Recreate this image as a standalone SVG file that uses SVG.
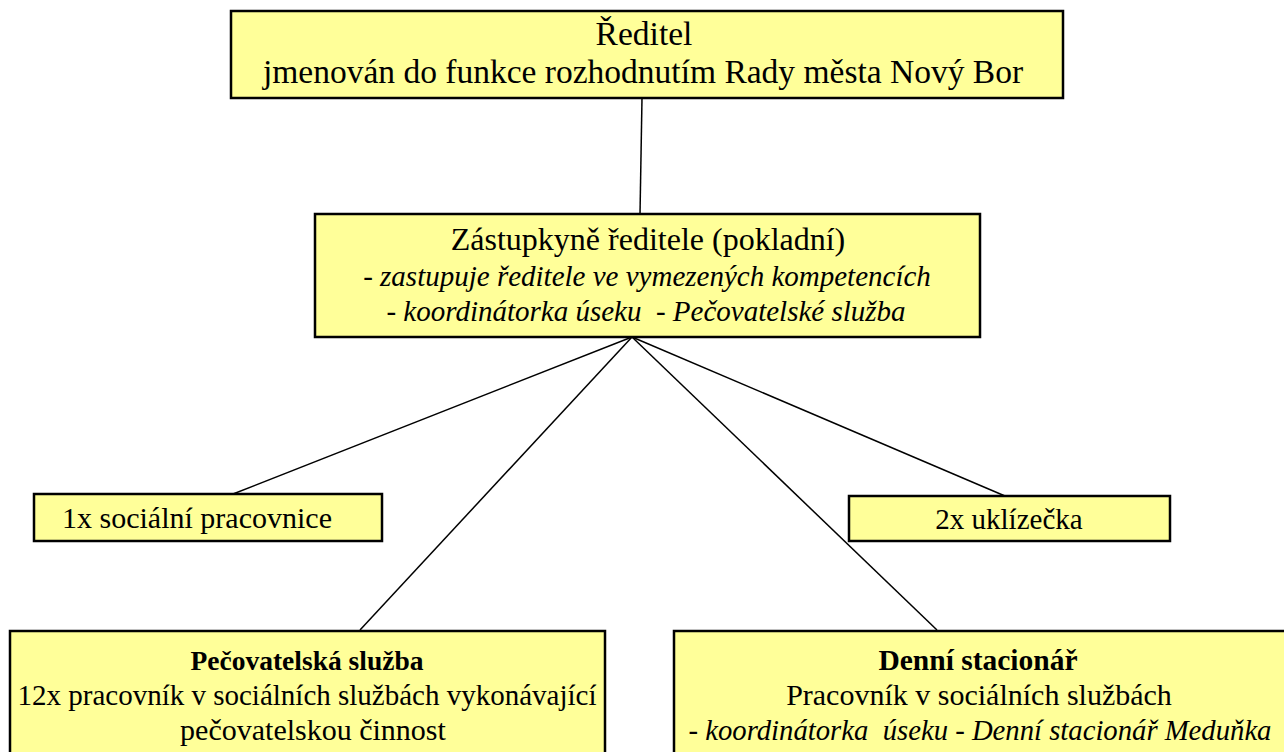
<svg xmlns="http://www.w3.org/2000/svg" width="1284" height="752" viewBox="0 0 1284 752">
<style>
.box{fill:#FFFF99;stroke:#000;stroke-width:2.5}
.t{font-family:"Liberation Serif","Times New Roman",serif;font-size:30px;fill:#000;text-anchor:middle;white-space:pre}
.i{font-style:italic;font-size:29px}
.b{font-weight:bold;font-size:28px}
.top{font-size:33.5px}
.c{stroke:#000;stroke-width:1.5;fill:none}
</style>
<rect width="1284" height="752" fill="#fff"/>
<g id="connectors">
<line class="c" x1="642" y1="98" x2="640" y2="214"/>
<line class="c" x1="632" y1="337" x2="233" y2="494"/>
<line class="c" x1="632" y1="337" x2="360" y2="630"/>
<line class="c" x1="632" y1="337" x2="937" y2="630"/>
<line class="c" x1="632" y1="337" x2="1005" y2="496"/>
</g>
<g id="reditel">
<rect class="box" x="231" y="11" width="832" height="87"/>
<text class="t top" x="644" y="45">Ředitel</text>
<text class="t top" x="643" y="83">jmenován do funkce rozhodnutím Rady města Nový Bor</text>
</g>
<g id="zastupkyne">
<rect class="box" x="315" y="214" width="665" height="123"/>
<text class="t" x="648" y="250" style="font-size:32px">Zástupkyně ředitele (pokladní)</text>
<text class="t i" x="647" y="286">- zastupuje ředitele ve vymezených kompetencích</text>
<text class="t i" x="646" y="321" xml:space="preserve">- koordinátorka úseku  - Pečovatelské služba</text>
</g>
<g id="socialni">
<rect class="box" x="34" y="494" width="348" height="47"/>
<text class="t" x="197" y="528">1x sociální pracovnice</text>
</g>
<g id="uklizecka">
<rect class="box" x="849" y="496" width="321" height="45"/>
<text class="t" x="1009" y="529" style="font-size:29px">2x uklízečka</text>
</g>
<g id="pecovatelska">
<rect class="box" x="10" y="631" width="595" height="140"/>
<text class="t b" x="307" y="670" style="font-size:27.5px">Pečovatelská služba</text>
<text class="t" x="307" y="705" style="font-size:29px">12x pracovník v sociálních službách vykonávající</text>
<text class="t" x="313" y="740">pečovatelskou činnost</text>
</g>
<g id="stacionar">
<rect class="box" x="674" y="631" width="630" height="140"/>
<text class="t b" x="978" y="670" style="font-size:29.5px">Denní stacionář</text>
<text class="t" x="979" y="705">Pracovník v sociálních službách</text>
<text class="t i" x="980" y="740" style="font-size:28.7px" xml:space="preserve">- koordinátorka  úseku - Denní stacionář Meduňka</text>
</g>
</svg>
